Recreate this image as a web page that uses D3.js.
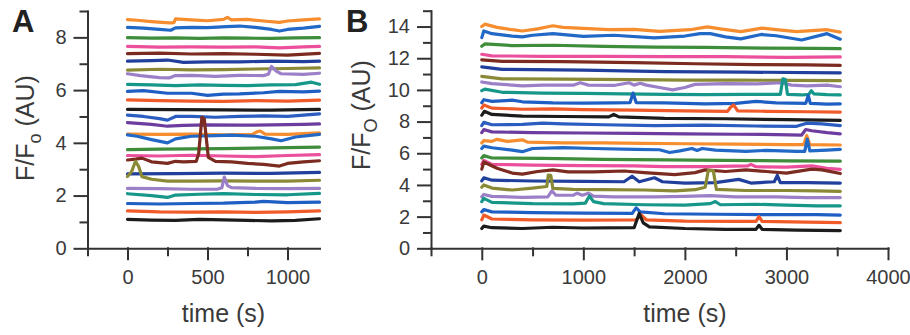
<!DOCTYPE html>
<html>
<head>
<meta charset="utf-8">
<script src="https://d3js.org/d3.v7.min.js"></script>
<style>
  body { margin: 0; background: #fff; }
  svg { display: block; font-family: "Liberation Sans", Arial, sans-serif; }
  .axis path, .axis line { stroke: #333; stroke-width: 2px; }
  .axis text { fill: #3a3a3a; font-size: 20px; font-family: "Liberation Sans", Arial, sans-serif; }
  .trace { fill: none; stroke-width: 3.2px; stroke-linejoin: round; stroke-linecap: round; }
</style>
</head>
<body>
<svg id="chart" width="910" height="335"></svg>
<script>
// colour cycle, bottom trace first
const traceColors = ["#1c1c1c", "#f15a29", "#1f5fc4", "#17968a", "#9b80c8", "#8a8a36", "#213f9c",
  "#7b2b1f", "#ec4f9c", "#3d8d3b", "#2268c6", "#f68d2e", "#6d3c9f", "#2a5dbf"];

const yMajorA = [0, 2, 4, 6, 8];
const yMinorA = [1, 3, 5, 7, 9];
const xMajorA = [0, 500, 1000];
const xMinorA = [-250, 250, 750];

const yMajorB = [0, 2, 4, 6, 8, 10, 12, 14];
const yMinorB = [1, 3, 5, 7, 9, 11, 13, 15];
const xMajorB = [0, 1000, 2000, 3000, 4000];
const xMinorB = [-500, 500, 1500, 2500, 3500];

// panel A traces, [time s, F/Fo], bottom trace first
const tracesA = [
  [[0,1.1],[150,1.07],[300,1.06],[450,1.1],[600,1.08],[750,1.06],[900,1.04],[1050,1.06],[1200,1.12]],
  [[0,1.42],[200,1.38],[400,1.37],[600,1.38],[800,1.36],[1000,1.38],[1200,1.42]],
  [[0,1.7],[200,1.68],[400,1.7],[600,1.71],[800,1.75],[850,1.78],[1000,1.73],[1200,1.75]],
  [[0,2.07],[150,2.0],[250,1.93],[300,2.02],[450,2.05],[600,2.07],[800,2.04],[1000,2.03],[1200,2.08]],
  [[0,2.27],[200,2.26],[400,2.24],[560,2.24],[590,2.3],[605,2.7],[625,2.38],[650,2.3],[800,2.27],[1000,2.26],[1200,2.27]],
  [[0,2.72],[25,2.9],[50,3.3],[70,3.1],[90,2.72],[150,2.62],[250,2.55],[400,2.55],[600,2.56],[800,2.55],[1000,2.55],[1200,2.58]],
  [[0,2.82],[300,2.83],[600,2.85],[900,2.84],[1200,2.88]],
  [[0,3.35],[50,3.38],[90,3.42],[150,3.28],[250,3.22],[300,3.3],[350,3.28],[430,3.3],[445,3.6],[465,4.97],[480,4.9],[505,3.45],[550,3.3],[650,3.28],[750,3.22],[850,3.18],[950,3.12],[1000,3.22],[1100,3.28],[1200,3.32]],
  [[0,3.52],[200,3.5],[400,3.53],[600,3.5],[800,3.48],[1000,3.52],[1200,3.55]],
  [[0,3.74],[200,3.76],[400,3.77],[600,3.78],[800,3.8],[1000,3.82],[1200,3.84]],
  [[0,4.3],[60,4.25],[150,4.12],[250,4.0],[300,4.15],[400,4.25],[550,4.27],[650,4.29],[800,4.25],[900,4.15],[960,4.08],[1050,4.22],[1200,4.32]],
  [[0,4.33],[200,4.32],[400,4.33],[600,4.3],[780,4.32],[810,4.42],[830,4.45],[860,4.33],[1000,4.32],[1200,4.38]],
  [[0,4.77],[150,4.7],[250,4.63],[350,4.66],[500,4.68],[700,4.67],[900,4.68],[1100,4.7],[1200,4.72]],
  [[0,5.05],[100,5.0],[200,4.92],[250,4.86],[300,5.0],[400,5.0],[550,4.97],[700,5.0],[850,5.02],[1000,5.0],[1100,5.05],[1200,5.1]],
  [[0,5.27],[300,5.26],[600,5.25],[900,5.24],[1200,5.27]],
  [[0,5.63],[200,5.6],[400,5.58],[600,5.57],[800,5.6],[1000,5.58],[1200,5.62]],
  [[0,5.95],[100,5.98],[250,5.88],[400,5.88],[500,5.8],[600,5.85],[700,5.86],[850,5.9],[950,5.95],[1100,5.93],[1200,5.96]],
  [[0,6.22],[150,6.2],[300,6.17],[450,6.2],[600,6.18],[750,6.17],[900,6.2],[1050,6.21],[1150,6.3],[1200,6.22]],
  [[0,6.62],[80,6.55],[200,6.47],[260,6.46],[300,6.55],[400,6.56],[550,6.52],[700,6.56],[850,6.55],[880,6.6],[900,6.9],[930,6.72],[960,6.62],[1100,6.6],[1200,6.64]],
  [[0,6.76],[200,6.79],[400,6.77],[600,6.78],[800,6.8],[1000,6.82],[1200,6.84]],
  [[0,7.1],[150,7.12],[250,7.14],[350,7.05],[500,7.07],[700,7.07],[900,7.1],[1100,7.08],[1200,7.1]],
  [[0,7.38],[200,7.4],[400,7.37],[600,7.38],[800,7.36],[1000,7.33],[1200,7.39]],
  [[0,7.66],[200,7.63],[400,7.64],[600,7.63],[800,7.64],[950,7.6],[1100,7.64],[1200,7.66]],
  [[0,7.99],[150,7.97],[300,7.98],[450,7.96],[600,7.98],[750,7.97],[900,7.96],[1050,7.98],[1200,7.99]],
  [[0,8.38],[100,8.35],[200,8.3],[270,8.27],[300,8.36],[400,8.38],[500,8.37],[620,8.41],[700,8.43],[800,8.38],[900,8.3],[950,8.24],[1000,8.3],[1100,8.35],[1200,8.42]],
  [[0,8.67],[60,8.65],[150,8.6],[260,8.55],[290,8.56],[300,8.7],[400,8.66],[500,8.63],[600,8.68],[625,8.76],[650,8.66],[750,8.68],[850,8.62],[950,8.57],[1000,8.62],[1100,8.66],[1200,8.7]]
];

// panel B traces, [time s, F/FO], bottom trace first
const tracesB = [
  [[0,1.25],[20,1.4],[100,1.3],[400,1.25],[700,1.33],[1000,1.28],[1500,1.3],[1550,2.2],[1590,1.6],[1650,1.35],[2000,1.25],[2400,1.2],[2700,1.2],[2730,1.45],[2760,1.2],[3100,1.15],[3530,1.12]],
  [[0,1.8],[20,2.1],[100,1.85],[500,1.8],[1000,1.78],[1520,1.8],[1570,2.1],[1620,1.8],[2000,1.72],[2500,1.7],[2700,1.7],[2730,2.0],[2760,1.7],[3200,1.65],[3530,1.62]],
  [[0,2.3],[20,2.45],[100,2.3],[500,2.25],[1000,2.22],[1480,2.2],[1520,2.55],[1560,2.3],[1800,2.18],[2300,2.15],[2800,2.12],[3300,2.12],[3530,2.1]],
  [[0,2.95],[20,3.15],[100,2.9],[500,2.82],[900,2.8],[1020,2.85],[1060,3.3],[1100,2.95],[1200,2.82],[1600,2.75],[2000,2.72],[2250,2.82],[2300,2.95],[2350,2.75],[2700,2.78],[3000,2.72],[3300,2.68],[3530,2.68]],
  [[0,3.25],[20,3.4],[100,3.28],[400,3.22],[650,3.25],[690,3.62],[730,3.35],[900,3.35],[940,3.48],[990,3.35],[1050,3.48],[1100,3.3],[1300,3.25],[1700,3.25],[2000,3.28],[2250,3.32],[2500,3.25],[2900,3.25],[3200,3.2],[3530,3.2]],
  [[0,3.85],[20,4.0],[100,3.8],[300,3.68],[500,3.8],[640,3.9],[655,4.62],[680,4.6],[700,3.78],[900,3.72],[1200,3.7],[1600,3.68],[1900,3.62],[2100,3.7],[2200,3.85],[2230,4.9],[2280,4.9],[2310,3.72],[2600,3.65],[3000,3.65],[3300,3.62],[3530,3.6]],
  [[0,4.25],[20,4.45],[100,4.3],[500,4.25],[1000,4.22],[1400,4.2],[1480,4.55],[1550,4.2],[1700,4.45],[1780,4.2],[2000,4.12],[2300,4.15],[2530,4.35],[2650,4.12],[2880,4.2],[2910,4.6],[2940,4.15],[3200,4.15],[3530,4.12]],
  [[0,5.0],[20,5.45],[150,5.05],[300,4.75],[400,4.68],[550,4.85],[700,4.95],[850,4.82],[1100,4.82],[1400,4.88],[1600,4.78],[1900,4.65],[2100,4.78],[2200,4.95],[2400,4.85],[2600,4.95],[2800,4.85],[3000,4.75],[3250,5.0],[3350,4.95],[3530,4.72]],
  [[0,5.3],[20,5.55],[100,5.3],[500,5.25],[1000,5.22],[1500,5.2],[1800,5.15],[2200,5.15],[2620,5.2],[2650,5.3],[2700,5.15],[3000,5.12],[3250,5.2],[3400,5.05],[3530,4.98]],
  [[0,5.7],[20,5.85],[100,5.7],[600,5.68],[1200,5.62],[1800,5.58],[2400,5.55],[3000,5.52],[3530,5.5]],
  [[0,6.3],[20,6.45],[100,6.35],[300,6.2],[400,6.1],[500,6.3],[800,6.35],[1100,6.3],[1500,6.25],[1750,6.22],[1850,6.05],[1950,6.15],[2070,6.3],[2120,6.18],[2170,6.3],[2300,6.2],[2600,6.12],[2800,6.18],[3100,6.12],[3180,6.12],[3205,6.9],[3230,6.15],[3400,6.2],[3530,6.25]],
  [[0,6.65],[20,6.8],[100,6.75],[150,6.88],[250,6.75],[400,6.85],[450,6.7],[800,6.65],[1200,6.65],[1600,6.62],[2000,6.6],[2500,6.58],[3000,6.55],[3170,6.55],[3200,7.12],[3230,6.55],[3530,6.52]],
  [[0,7.3],[20,7.5],[100,7.35],[500,7.3],[1000,7.28],[1500,7.25],[2000,7.22],[2500,7.2],[2900,7.18],[3150,7.15],[3190,7.5],[3250,7.42],[3400,7.3],[3530,7.22]],
  [[0,7.75],[20,7.95],[100,7.8],[400,7.82],[600,7.9],[800,7.85],[1200,7.8],[1700,7.75],[2200,7.78],[2700,7.72],[3100,7.7],[3200,7.9],[3350,7.85],[3530,7.75]],
  [[0,8.4],[25,8.65],[100,8.45],[400,8.35],[800,8.32],[1250,8.3],[1300,8.45],[1350,8.3],[1800,8.2],[2400,8.18],[3000,8.12],[3530,8.08]],
  [[0,8.85],[20,9.05],[100,8.85],[400,8.78],[700,8.8],[1000,8.75],[1500,8.72],[2000,8.68],[2420,8.65],[2450,8.9],[2480,9.05],[2520,8.68],[2800,8.65],[3200,8.62],[3530,8.6]],
  [[0,9.2],[20,9.38],[100,9.28],[300,9.35],[400,9.25],[700,9.18],[1000,9.17],[1300,9.18],[1460,9.2],[1490,9.8],[1520,9.2],[1800,9.18],[2200,9.12],[2500,9.15],[2700,9.28],[2900,9.18],[3190,9.15],[3215,9.65],[3235,9.15],[3400,9.1],[3530,9.12]],
  [[0,9.95],[30,10.05],[200,9.85],[600,9.8],[1000,9.78],[1400,9.75],[1800,9.72],[2200,9.7],[2600,9.72],[2940,9.72],[2965,10.7],[2990,10.65],[3010,9.72],[3150,9.68],[3220,9.72],[3245,9.95],[3270,9.75],[3400,9.7],[3530,9.68]],
  [[0,10.5],[100,10.4],[300,10.3],[400,10.25],[600,10.3],[900,10.3],[970,10.45],[1050,10.3],[1300,10.28],[1450,10.45],[1500,10.3],[1560,10.42],[1620,10.3],[1750,10.15],[1880,10.0],[2000,10.15],[2100,10.35],[2400,10.4],[2700,10.38],[2950,10.45],[3050,10.3],[3200,10.25],[3400,10.3],[3530,10.2]],
  [[0,10.85],[200,10.7],[800,10.68],[1500,10.65],[2000,10.62],[2500,10.62],[3000,10.6],[3530,10.58]],
  [[0,11.45],[200,11.3],[1000,11.25],[1800,11.15],[2600,11.12],[3530,11.08]],
  [[0,11.9],[200,11.8],[800,11.78],[1500,11.72],[2100,11.65],[2700,11.6],[3200,11.58],[3530,11.55]],
  [[0,12.25],[100,12.15],[600,12.12],[1200,12.12],[1800,12.1],[2400,12.1],[3000,12.05],[3530,12.08]],
  [[0,12.75],[30,12.9],[300,12.8],[700,12.82],[1200,12.75],[1700,12.7],[2200,12.68],[2800,12.64],[3300,12.62],[3530,12.6]],
  [[0,13.3],[20,13.72],[100,13.55],[300,13.4],[400,13.35],[500,13.45],[700,13.55],[1000,13.38],[1300,13.45],[1700,13.28],[2000,13.4],[2150,13.55],[2250,13.55],[2400,13.35],[2550,13.22],[2750,13.5],[2900,13.42],[3150,13.15],[3400,13.55],[3530,13.2]],
  [[0,14.0],[30,14.15],[150,13.95],[300,13.8],[400,13.72],[550,13.85],[700,14.05],[800,13.95],[1000,13.88],[1250,13.8],[1500,13.82],[1750,13.7],[2050,13.8],[2220,13.98],[2350,13.85],[2550,13.68],[2760,13.9],[2900,13.8],[3100,13.68],[3400,13.8],[3530,13.65]]
];

const svg = d3.select("#chart");

function drawPanel(opts) {
  const x = d3.scaleLinear().domain(opts.xDomain).range(opts.xRange);
  const y = d3.scaleLinear().domain(opts.yDomain).range(opts.yRange);
  const g = svg.append("g");

  const line = d3.line()
    .x(d => x(d[0]))
    .y(d => y(d[1]));

  // top trace first, so lower traces (and their spikes) sit on top
  const order = opts.traces.map((t, i) => i).reverse();
  g.append("g")
    .selectAll("path")
    .data(order)
    .join("path")
    .attr("class", "trace")
    .attr("d", i => line(opts.traces[i]))
    .attr("stroke", i => traceColors[i % traceColors.length]);

  const x0 = opts.yRange[0];
  const y0 = opts.xRange[0];
  const fmt = d3.format("d");

  // y axis: minor ticks, then labelled major ticks
  g.append("g")
    .attr("class", "axis")
    .attr("transform", `translate(${y0},0)`)
    .call(d3.axisLeft(y).tickValues(opts.yMinor).tickSize(7).tickSizeOuter(0).tickFormat(""));
  g.append("g")
    .attr("class", "axis")
    .attr("transform", `translate(${y0},0)`)
    .call(d3.axisLeft(y).tickValues(opts.yMajor).tickSize(13).tickSizeOuter(0).tickPadding(8).tickFormat(fmt))
    .select(".domain").remove();

  // x axis
  g.append("g")
    .attr("class", "axis")
    .attr("transform", `translate(0,${x0})`)
    .call(d3.axisBottom(x).tickValues(opts.xMinor).tickSize(7).tickSizeOuter(0).tickFormat(""));
  g.append("g")
    .attr("class", "axis")
    .attr("transform", `translate(0,${x0})`)
    .call(d3.axisBottom(x).tickValues(opts.xMajor).tickSize(11).tickSizeOuter(0).tickPadding(11).tickFormat(fmt))
    .select(".domain").remove();

  g.selectAll(".axis line, .axis path").attr("stroke-linecap", "square");

  // x title
  g.append("text")
    .attr("x", x(opts.xTitleAt))
    .attr("y", 322)
    .attr("text-anchor", "middle")
    .attr("fill", "#3a3a3a")
    .style("font-size", "25px")
    .text("time (s)");

  // y title with subscript
  const yt = g.append("text")
    .attr("transform", `translate(${opts.yTitleX},${opts.yTitleY}) rotate(-90)`)
    .attr("text-anchor", "middle")
    .attr("fill", "#3a3a3a")
    .style("font-size", "25px");
  yt.append("tspan").text("F/F");
  yt.append("tspan").attr("dy", 7).style("font-size", "18px").text(opts.sub);
  yt.append("tspan").attr("dy", -7).text(" (AU)");

  // panel letter
  g.append("text")
    .attr("x", opts.letterX)
    .attr("y", 32)
    .attr("fill", "#222")
    .style("font-size", "31px")
    .style("font-weight", "bold")
    .text(opts.letter);
}

drawPanel({
  traces: tracesA,
  xDomain: [-250, 1200], xRange: [87.5, 319.5],
  yDomain: [0, 9], yRange: [248.3, 11],
  xMajor: xMajorA, xMinor: xMinorA, yMajor: yMajorA, yMinor: yMinorA,
  xTitleAt: 600, yTitleX: 34, yTitleY: 128, sub: "o",
  letter: "A", letterX: 12
});

drawPanel({
  traces: tracesB,
  xDomain: [-500, 4000], xRange: [431, 888],
  yDomain: [0, 15], yRange: [248.3, 10.7],
  xMajor: xMajorB, xMinor: xMinorB, yMajor: yMajorB, yMinor: yMinorB,
  xTitleAt: 2000, yTitleX: 370, yTitleY: 115, sub: "O",
  letter: "B", letterX: 346
});
</script>
</body>
</html>
